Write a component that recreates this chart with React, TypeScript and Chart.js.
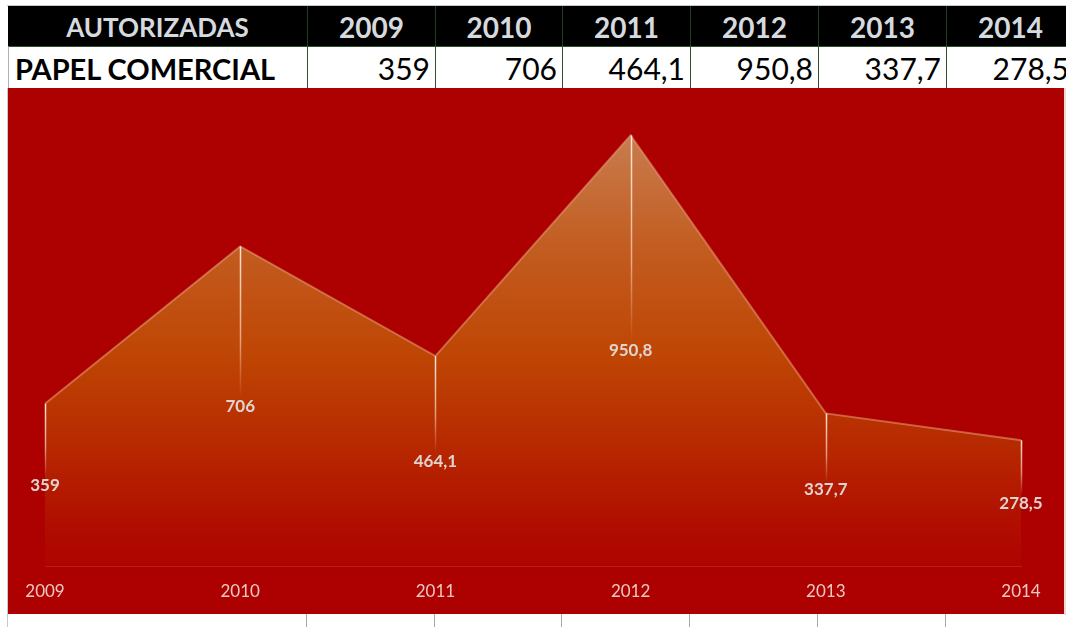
import React, { useEffect, useRef } from "react";
import { Chart, registerables } from "chart.js";

Chart.register(...registerables);

const years = ["2009", "2010", "2011", "2012", "2013", "2014"];
const values = [359, 706, 464.1, 950.8, 337.7, 278.5];
const headerTitle = "AUTORIZADAS";
const rowTitle = "PAPEL COMERCIAL";
const yMin = 0;
const yMax = 1000;

const fmt = (v: number) => String(v).replace(".", ",");

const RED = "#ad0000";

const dropAndLabels = {
  id: "dropAndLabels",
  afterDatasetsDraw(chart: any) {
    const { ctx } = chart;
    const meta = chart.getDatasetMeta(0);
    const yScale = chart.scales.y;
    const base = yScale.getPixelForValue(0);
    ctx.save();
    meta.data.forEach((pt: any) => {
      const x = Math.round(pt.x) + 0.5;
      const y = pt.y;
      const end = (y + base) / 2 - 8;
      const g = ctx.createLinearGradient(0, y, 0, end);
      g.addColorStop(0, "rgba(255,238,228,0.95)");
      g.addColorStop(0.6, "rgba(255,228,214,0.6)");
      g.addColorStop(1, "rgba(255,220,200,0)");
      ctx.strokeStyle = g;
      ctx.lineWidth = 1.5;
      ctx.beginPath();
      ctx.moveTo(x, y);
      ctx.lineTo(x, end);
      ctx.stroke();
    });
    ctx.font = "bold 17px Lato";
    ctx.fillStyle = "rgb(224,212,210)";
    ctx.textAlign = "center";
    ctx.textBaseline = "middle";
    meta.data.forEach((pt: any, i: number) => {
      const yMid = (pt.y + base) / 2;
      ctx.fillText(fmt(values[i]), pt.x, yMid);
    });
    ctx.restore();
  },
};

function ChartCanvas() {
  const ref = useRef<HTMLCanvasElement | null>(null);
  useEffect(() => {
    if (!ref.current) return;
    const chart = new Chart(ref.current, {
      type: "line",
      data: {
        labels: years,
        datasets: [
          {
            data: values,
            fill: "origin",
            tension: 0,
            pointRadius: 0,
            borderWidth: 2,
            borderColor: "rgba(226,152,112,0.6)",
            backgroundColor: (c: any) => {
              const ca = c.chart.chartArea;
              if (!ca) return "rgba(190,80,20,0.8)";
              const g = c.chart.ctx.createLinearGradient(0, ca.top, 0, ca.bottom);
              g.addColorStop(0, "rgb(206,140,100)");
              g.addColorStop(0.05, "rgb(200,124,78)");
              g.addColorStop(0.3, "rgb(194,92,32)");
              g.addColorStop(0.53, "rgb(191,70,4)");
              g.addColorStop(0.75, "rgb(182,38,0)");
              g.addColorStop(0.92, "rgb(176,12,0)");
              g.addColorStop(1, "rgb(174,4,0)");
              return g;
            },
          },
        ],
      },
      options: {
        responsive: false,
        animation: false,
        layout: { padding: { left: 37, right: 43, top: 25, bottom: -3 } },
        plugins: { legend: { display: false }, tooltip: { enabled: false } },
        scales: {
          x: {
            offset: false,
            grid: { display: false, drawTicks: false, tickLength: 0 },
            border: { display: true, color: "rgba(210,60,40,0.55)", width: 1 },
            ticks: {
              color: "rgb(236,200,192)",
              font: { family: "Lato", size: 17 },
              padding: 15,
              autoSkip: false,
              maxRotation: 0,
            },
          },
          y: { display: false, min: yMin, max: yMax },
        },
      },
      plugins: [dropAndLabels],
    });
    return () => chart.destroy();
  }, []);
  return <canvas ref={ref} width={1056} height={526} style={{ display: "block", background: RED }} />;
}

const colW = [299, 128, 127, 128, 128, 128, 128];

export default function App() {
  const lefts: number[] = [];
  let acc = 8;
  colW.forEach((w) => {
    lefts.push(acc);
    acc += w;
  });
  const cellBase: React.CSSProperties = {
    position: "absolute",
    boxSizing: "border-box",
    whiteSpace: "nowrap",
    overflow: "hidden",
  };
  return (
    <div style={{ position: "absolute", left: 0, top: 0, width: 1066, height: 627, overflow: "hidden", background: "#fff" }}>
      <div style={{ position: "absolute", left: 7, top: 5, width: 1059, height: 1, background: "#c8c8c8" }} />
      {[headerTitle, ...years].map((t, i) => (
        <div
          key={"h" + i}
          style={{
            ...cellBase,
            left: lefts[i],
            top: 6,
            width: colW[i],
            height: 40,
            background: "#000",
            borderLeft: i > 0 ? "1px solid #1f3d1f" : "none",
            color: "#d6dadf",
            fontFamily: "Lato",
            fontWeight: 700,
            fontSize: i === 0 ? 26 : 28,
            lineHeight: "42px",
            textAlign: "center",
          }}
        >
          {t}
        </div>
      ))}
      {[rowTitle, ...values.map(fmt)].map((t, i) => (
        <div
          key={"r" + i}
          style={{
            ...cellBase,
            left: lefts[i],
            top: 46,
            width: colW[i] + 1,
            height: 42,
            background: "#fff",
            borderTop: "1px solid #2f4f2f",
            borderLeft: i > 0 ? "1px solid #2f4f2f" : "1px solid #b0b0b0",
            color: "#000",
            fontFamily: "Lato",
            fontWeight: i === 0 ? 700 : 400,
            fontSize: i === 0 ? 29 : 30,
            lineHeight: "43px",
            textAlign: i === 0 ? "left" : "right",
            paddingLeft: i === 0 ? 6 : 0,
            paddingRight: i === 0 ? 0 : 6,
          }}
        >
          {t}
        </div>
      ))}
      {lefts.slice(1).map((l, i) => (
        <div key={"g" + i} style={{ position: "absolute", left: l - 1, top: 612, width: 1, height: 15, background: "#a8a8a8" }} />
      ))}
      <div style={{ position: "absolute", left: 7, top: 88, width: 1, height: 539, background: "#c8c8c8" }} />
      <div style={{ position: "absolute", left: 1064, top: 88, width: 2, height: 527, background: "#f0d8d4" }} />
      <div style={{ position: "absolute", left: 8, top: 88, width: 1056, height: 526 }}>
        <ChartCanvas />
      </div>
    </div>
  );
}
